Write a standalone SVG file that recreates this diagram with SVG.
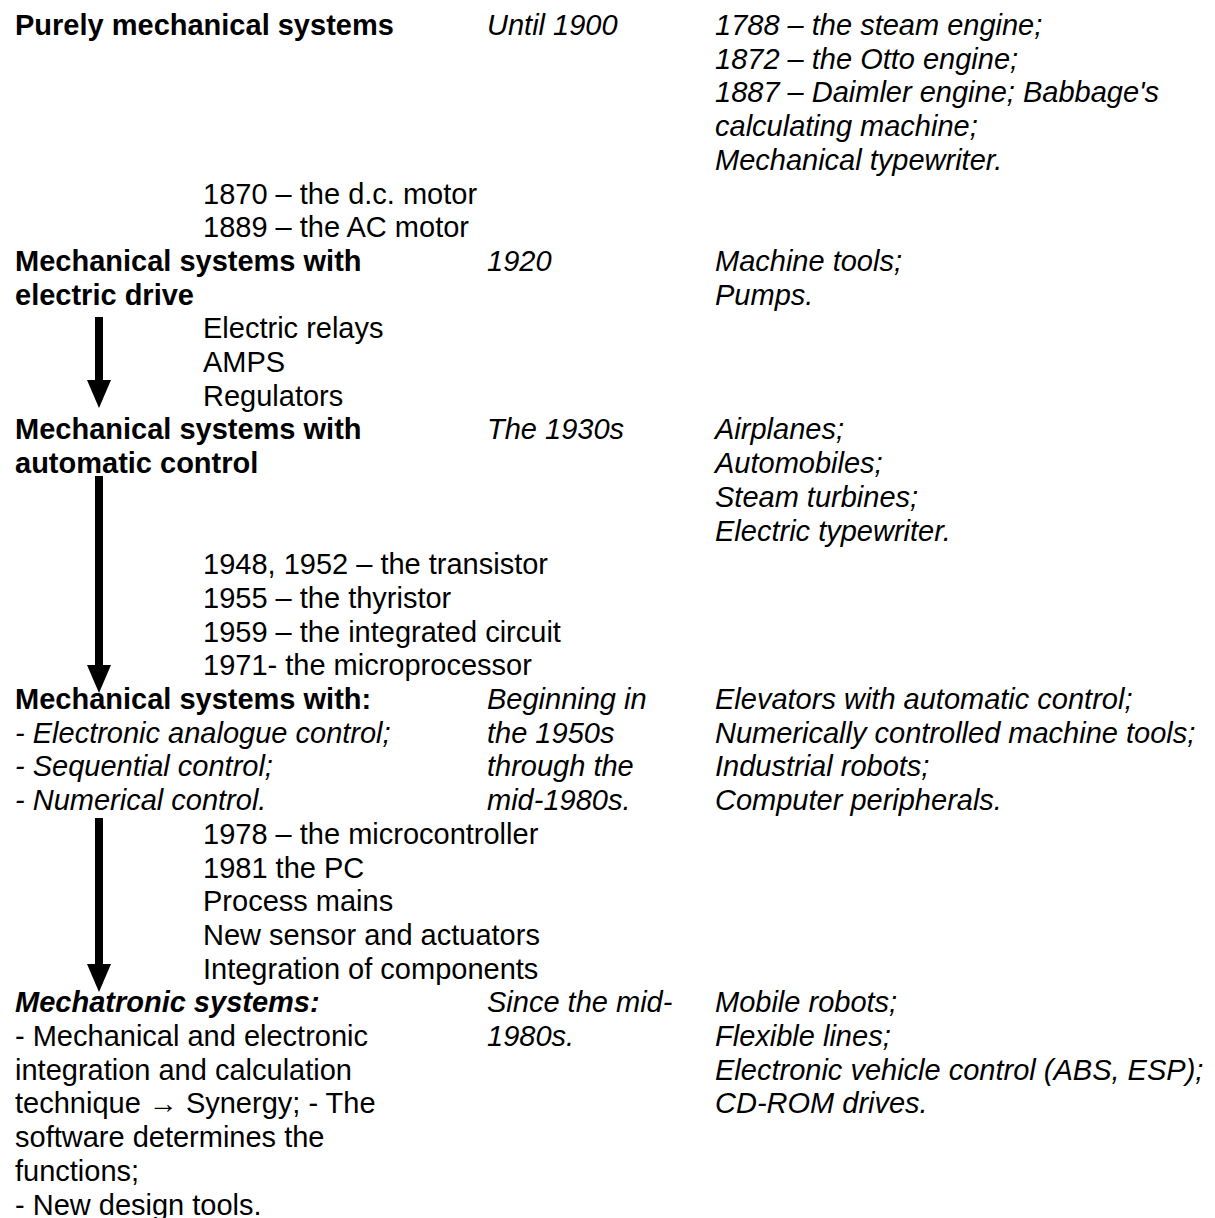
<svg xmlns="http://www.w3.org/2000/svg" width="1215" height="1218" viewBox="0 0 1215 1218">
<style>
text{font-family:"Liberation Sans",Arial,sans-serif;font-size:29px;fill:#000}
.b{font-weight:bold}
.i{font-style:italic}
.bi{font-weight:bold;font-style:italic}
.arr{stroke:#000;stroke-width:8;fill:none}
</style>
<defs>
<marker id="ah" viewBox="0 0 28 24" markerWidth="28" markerHeight="24" refX="0" refY="12" orient="auto" markerUnits="userSpaceOnUse">
<path d="M0,0 L28,12 L0,24 Z" fill="#000"/>
</marker>
</defs>
<rect width="1215" height="1218" fill="#fff"/>

<g id="stage1">
<text class="b" x="15" y="35">Purely mechanical systems</text>
<text class="i" x="487" y="35">Until 1900</text>
<text class="i" x="715" y="35"><tspan x="715" y="35">1788 – the steam engine;</tspan><tspan x="715" y="68.7">1872 – the Otto engine;</tspan><tspan x="715" y="102.4">1887 – Daimler engine; Babbage's</tspan><tspan x="715" y="136.1">calculating machine;</tspan><tspan x="715" y="169.8">Mechanical typewriter.</tspan></text>
</g>

<g id="tech1">
<text x="203" y="203.5"><tspan x="203" y="203.5">1870 – the d.c. motor</tspan><tspan x="203" y="237.2">1889 – the AC motor</tspan></text>
</g>

<g id="stage2">
<text class="b" x="15" y="270.9"><tspan x="15" y="270.9">Mechanical systems with</tspan><tspan x="15" y="304.6">electric drive</tspan></text>
<text class="i" x="487" y="270.9">1920</text>
<text class="i" x="715" y="270.9"><tspan x="715" y="270.9">Machine tools;</tspan><tspan x="715" y="304.6">Pumps.</tspan></text>
</g>

<g id="tech2">
<text x="203" y="338.3"><tspan x="203" y="338.3">Electric relays</tspan><tspan x="203" y="372">AMPS</tspan><tspan x="203" y="405.7">Regulators</tspan></text>
</g>

<g id="stage3">
<text class="b" x="15" y="439.4"><tspan x="15" y="439.4">Mechanical systems with</tspan><tspan x="15" y="473.1">automatic control</tspan></text>
<text class="i" x="487" y="439.4">The 1930s</text>
<text class="i" x="715" y="439.4"><tspan x="715" y="439.4">Airplanes;</tspan><tspan x="715" y="473.1">Automobiles;</tspan><tspan x="715" y="506.8">Steam turbines;</tspan><tspan x="715" y="540.5">Electric typewriter.</tspan></text>
</g>

<g id="tech3">
<text x="203" y="574.2"><tspan x="203" y="574.2">1948, 1952 – the transistor</tspan><tspan x="203" y="607.9">1955 – the thyristor</tspan><tspan x="203" y="641.6">1959 – the integrated circuit</tspan><tspan x="203" y="675.3">1971- the microprocessor</tspan></text>
</g>

<g id="stage4">
<text class="b" x="15" y="709">Mechanical systems with:</text>
<text class="i" x="15" y="742.7"><tspan x="15" y="742.7">- Electronic analogue control;</tspan><tspan x="15" y="776.4">- Sequential control;</tspan><tspan x="15" y="810.1">- Numerical control.</tspan></text>
<text class="i" x="487" y="709"><tspan x="487" y="709">Beginning in</tspan><tspan x="487" y="742.7">the 1950s</tspan><tspan x="487" y="776.4">through the</tspan><tspan x="487" y="810.1">mid-1980s.</tspan></text>
<text class="i" x="715" y="709"><tspan x="715" y="709">Elevators with automatic control;</tspan><tspan x="715" y="742.7">Numerically controlled machine tools;</tspan><tspan x="715" y="776.4">Industrial robots;</tspan><tspan x="715" y="810.1">Computer peripherals.</tspan></text>
</g>

<g id="tech4">
<text x="203" y="843.8"><tspan x="203" y="843.8">1978 – the microcontroller</tspan><tspan x="203" y="877.5">1981 the PC</tspan><tspan x="203" y="911.2">Process mains</tspan><tspan x="203" y="944.9">New sensor and actuators</tspan><tspan x="203" y="978.6">Integration of components</tspan></text>
</g>

<g id="stage5">
<text class="bi" x="15" y="1012.3">Mechatronic systems:</text>
<text x="15" y="1046"><tspan x="15" y="1046">- Mechanical and electronic</tspan><tspan x="15" y="1079.7">integration and calculation</tspan><tspan x="15" y="1113.4">technique → Synergy; - The</tspan><tspan x="15" y="1147.1">software determines the</tspan><tspan x="15" y="1180.8">functions;</tspan><tspan x="15" y="1214.5">- New design tools.</tspan></text>
<text class="i" x="487" y="1012.3"><tspan x="487" y="1012.3">Since the mid-</tspan><tspan x="487" y="1046">1980s.</tspan></text>
<text class="i" x="715" y="1012.3"><tspan x="715" y="1012.3">Mobile robots;</tspan><tspan x="715" y="1046">Flexible lines;</tspan><tspan x="715" y="1079.7">Electronic vehicle control (ABS, ESP);</tspan><tspan x="715" y="1113.4">CD-ROM drives.</tspan></text>
</g>

<g id="connectors">
<line class="arr" x1="99" y1="317" x2="99" y2="380" marker-end="url(#ah)"/>
<line class="arr" x1="99" y1="476" x2="99" y2="665" marker-end="url(#ah)"/>
<line class="arr" x1="99" y1="818" x2="99" y2="964" marker-end="url(#ah)"/>
</g>
</svg>
